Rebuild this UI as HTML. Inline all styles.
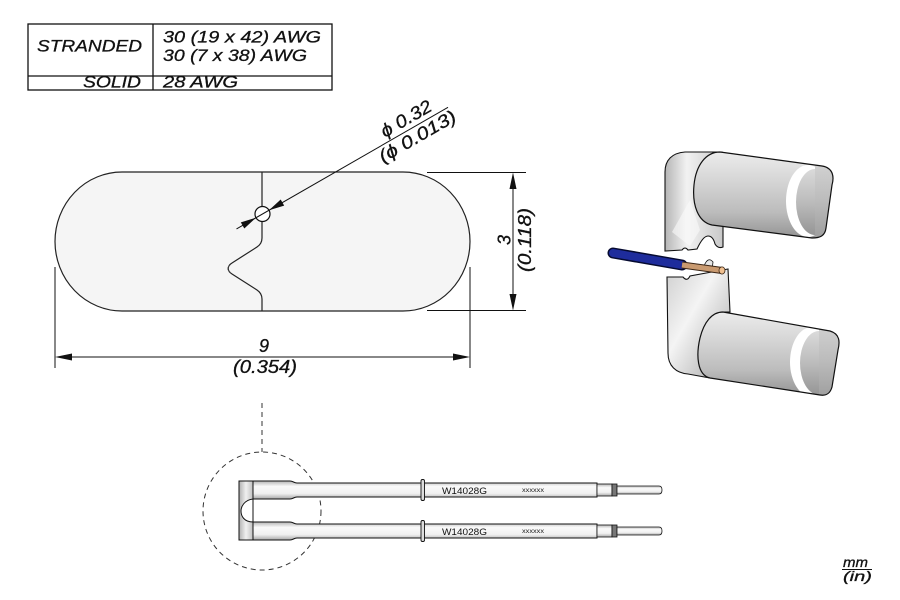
<!DOCTYPE html>
<html><head><meta charset="utf-8"><style>
html,body{margin:0;padding:0;background:#fff;}
svg{display:block;}
text{font-family:"Liberation Sans",Arial,sans-serif;}
.it{font-style:italic;}
.t{stroke:#111;stroke-width:0.3;}
</style></head><body>
<svg width="900" height="600" viewBox="0 0 900 600" xmlns="http://www.w3.org/2000/svg">
<defs>
<linearGradient id="cylU" x1="0" y1="0" x2="0" y2="1">
<stop offset="0" stop-color="#ececec"/><stop offset="0.3" stop-color="#d8d8d8"/><stop offset="0.7" stop-color="#bcbcbc"/><stop offset="1" stop-color="#949494"/>
</linearGradient>
<linearGradient id="cap" x1="0" y1="0" x2="0" y2="1">
<stop offset="0" stop-color="#dadada"/><stop offset="0.5" stop-color="#bcbcbc"/><stop offset="1" stop-color="#959595"/>
</linearGradient>
<linearGradient id="plate" x1="0" y1="0" x2="1" y2="0">
<stop offset="0" stop-color="#b5b5b5"/><stop offset="0.35" stop-color="#f2f2f2"/><stop offset="0.7" stop-color="#d9d9d9"/><stop offset="1" stop-color="#c4c4c4"/>
</linearGradient>
<linearGradient id="plateL" x1="0" y1="0" x2="1" y2="1">
<stop offset="0" stop-color="#d0d0d0"/><stop offset="0.4" stop-color="#f4f4f4"/><stop offset="0.75" stop-color="#c6c6c6"/><stop offset="1" stop-color="#a2a2a2"/>
</linearGradient>
<linearGradient id="tube" x1="0" y1="0" x2="0" y2="1">
<stop offset="0" stop-color="#b5b5b5"/><stop offset="0.3" stop-color="#fafafa"/><stop offset="0.7" stop-color="#f0f0f0"/><stop offset="1" stop-color="#a8a8a8"/>
</linearGradient>
<linearGradient id="endp" x1="0" y1="0" x2="1" y2="0">
<stop offset="0" stop-color="#b0b0b0"/><stop offset="0.5" stop-color="#f0f0f0"/><stop offset="1" stop-color="#c0c0c0"/>
</linearGradient>
<clipPath id="cu"><path d="M720,152 L822,166 C834,168 834,178 832,185 L826,228 C825,236 820,238 812,238 L712,225 C698,222 692,205 694,185 C696,165 706,152 720,152 Z"/></clipPath>
<clipPath id="cl"><path d="M723,312 L830,331 C840,334 840,342 838,350 L832,387 C830,394 826,396 820,395 L710,378 C697,375 696,355 700,338 C704,322 712,312 723,312 Z"/></clipPath>
</defs>

<!-- Table -->
<g stroke="#111" stroke-width="1.3" fill="none">
<rect x="28" y="24" width="304" height="66"/>
<line x1="153" y1="24" x2="153" y2="90"/>
<line x1="28" y1="76" x2="332" y2="76"/>
</g>
<g class="it t" font-size="17" fill="#111">
<text x="37" y="51.5" textLength="105" lengthAdjust="spacingAndGlyphs">STRANDED</text>
<text x="163" y="42.5" textLength="158" lengthAdjust="spacingAndGlyphs">30 (19 x 42) AWG</text>
<text x="163" y="61" textLength="144" lengthAdjust="spacingAndGlyphs">30 (7 x 38) AWG</text>
<text x="83" y="87.5" textLength="58" lengthAdjust="spacingAndGlyphs">SOLID</text>
<text x="163" y="87.5" textLength="75" lengthAdjust="spacingAndGlyphs">28 AWG</text>
</g>

<!-- Pill shape -->
<path d="M122,172 H403 A67,69.5 0 0 1 403,311 H122 A67,69.5 0 0 1 122,172 Z" fill="#f5f5f5" stroke="#222" stroke-width="1.2"/>
<path d="M262,172 V238 C262,242 260,245 257,247 L232,263 C227,266 227,271 232,274 L257,290 C260,292 262,295 262,299 V311" fill="none" stroke="#222" stroke-width="1.2"/>
<path d="M230,265 C227,268 227,270 231,273" fill="none" stroke="#444" stroke-width="0.8"/>
<circle cx="262.5" cy="214" r="7.5" fill="#fff" stroke="#111" stroke-width="1.2"/>

<!-- diameter leader -->
<g transform="translate(262.5,214) rotate(-29.9)">
<line x1="-30" y1="0" x2="214" y2="0" stroke="#111" stroke-width="1"/>
<polygon points="-7.5,0 -23,-3.5 -23,3.5" fill="#111"/>
<polygon points="7.5,0 23,-3.5 23,3.5" fill="#111"/>
<text class="it t" x="144" y="-5" font-size="18" fill="#111" textLength="56" lengthAdjust="spacingAndGlyphs">ϕ 0.32</text>
<text class="it t" x="130" y="16" font-size="18" fill="#111" textLength="86" lengthAdjust="spacingAndGlyphs">(ϕ 0.013)</text>
</g>

<!-- horizontal dimension -->
<g stroke="#111" stroke-width="1">
<line x1="55" y1="267" x2="55" y2="368"/>
<line x1="470" y1="267" x2="470" y2="368"/>
<line x1="60" y1="357" x2="465" y2="357"/>
</g>
<polygon points="55,357 72,353.5 72,360.5" fill="#111"/>
<polygon points="470,357 453,353.5 453,360.5" fill="#111"/>
<text class="it t" x="264" y="352" font-size="18" fill="#111" text-anchor="middle">9</text>
<text class="it t" x="233" y="373" font-size="18" fill="#111" textLength="64" lengthAdjust="spacingAndGlyphs">(0.354)</text>

<!-- vertical dimension -->
<g stroke="#111" stroke-width="1">
<line x1="427" y1="172.5" x2="526" y2="172.5"/>
<line x1="427" y1="310.5" x2="526" y2="310.5"/>
<line x1="513" y1="178" x2="513" y2="305"/>
</g>
<polygon points="513,172.5 509.5,189 516.5,189" fill="#111"/>
<polygon points="513,310.5 509.5,294 516.5,294" fill="#111"/>
<text class="it t" transform="translate(510.5,240) rotate(-90)" font-size="18" fill="#111" text-anchor="middle">3</text>
<text class="it t" transform="translate(531,272) rotate(-90)" font-size="18" fill="#111" textLength="64" lengthAdjust="spacingAndGlyphs">(0.118)</text>

<!-- 3D image: upper piece -->
<path d="M665,251 L665,172 C665,160 672,153 685,152 L722,152 L727,200 L723,226 L723,247 Q718,249 715,244 Q713,236 708,236 Q703,236 697,249 L688,250 Q685,246 682,250 Z" fill="url(#plate)" stroke="#111" stroke-width="1.1"/>
<path d="M672,232 L690,200 L700,230 L690,246 Z" fill="#fafafa" opacity="0.6"/>
<path d="M720,152 L822,166 C834,168 834,178 832,185 L826,228 C825,236 820,238 812,238 L712,225 C698,222 692,205 694,185 C696,165 706,152 720,152 Z" fill="url(#cylU)"/>
<g clip-path="url(#cu)">
<ellipse cx="808" cy="201" rx="22" ry="36" fill="#ffffff"/>
<ellipse cx="815" cy="202" rx="19" ry="33" fill="url(#cap)"/>
<rect x="815" y="150" width="35" height="100" fill="url(#cap)"/>
</g>
<path d="M720,152 L822,166 C834,168 834,178 832,185 L826,228 C825,236 820,238 812,238 L712,225 C698,222 692,205 694,185 C696,165 706,152 720,152 Z" fill="none" stroke="#111" stroke-width="1.2"/>

<!-- lower piece -->
<path d="M667,277 L683,277 Q687,282 690,276 L728,269 L730,312 L723,312 L710,378 L688,374 C676,373 668,366 668,353 Z" fill="url(#plateL)" stroke="#111" stroke-width="1.1"/>
<path d="M704,266 Q708,256 713,262 L712,270 Z" fill="#e6e6e6" stroke="#111" stroke-width="0.8"/>
<path d="M723,312 L830,331 C840,334 840,342 838,350 L832,387 C830,394 826,396 820,395 L710,378 C697,375 696,355 700,338 C704,322 712,312 723,312 Z" fill="url(#cylU)"/>
<g clip-path="url(#cl)">
<ellipse cx="812" cy="362" rx="22" ry="35" fill="#ffffff"/>
<ellipse cx="819" cy="363" rx="19" ry="32" fill="url(#cap)"/>
<rect x="819" y="310" width="35" height="100" fill="url(#cap)"/>
</g>
<path d="M723,312 L830,331 C840,334 840,342 838,350 L832,387 C830,394 826,396 820,395 L710,378 C697,375 696,355 700,338 C704,322 712,312 723,312 Z" fill="none" stroke="#111" stroke-width="1.2"/>

<!-- wire -->
<line x1="613" y1="253" x2="682" y2="265" stroke="#050a30" stroke-width="11" stroke-linecap="round"/>
<line x1="613" y1="253" x2="682" y2="265" stroke="#1e2c9c" stroke-width="8" stroke-linecap="round"/>
<line x1="682" y1="265" x2="722" y2="270.5" stroke="#3a2515" stroke-width="7"/>
<line x1="682" y1="265" x2="722" y2="270.5" stroke="#c99a70" stroke-width="5"/>
<ellipse cx="722" cy="270.5" rx="3" ry="3.6" fill="#f0c090" stroke="#3a2515" stroke-width="0.8"/>

<!-- Bottom tips drawing -->
<line x1="262" y1="403" x2="262" y2="452" stroke="#333" stroke-width="1" stroke-dasharray="5,4"/>
<circle cx="262" cy="511" r="59" fill="none" stroke="#333" stroke-width="1" stroke-dasharray="5,4"/>

<rect x="239" y="481" width="14" height="59" fill="url(#endp)" stroke="#111" stroke-width="1"/>
<path d="M253,499 C244,500 241,507 241,511 C241,516 244,522 253,522 Z" fill="#fff" stroke="#111" stroke-width="1"/>

<g>
<path d="M253,481 H290 C293,481 294,483 297,483 H597 V497 H297 C294,497 293,499 290,499 H253 Z" fill="url(#tube)" stroke="#111" stroke-width="1"/>
<rect x="597" y="484" width="15" height="12" fill="url(#tube)" stroke="#111" stroke-width="0.8"/>
<rect x="612" y="484" width="5" height="12" fill="#777" stroke="#111" stroke-width="0.8"/>
<path d="M617,486 H659 Q662,486 662,490 Q662,494 659,494 H617 Z" fill="url(#tube)" stroke="#111" stroke-width="0.8"/>
<rect x="421" y="479.5" width="3.5" height="21" rx="1.5" fill="#ddd" stroke="#111" stroke-width="0.9"/>
<text x="442" y="494" font-size="9.5" fill="#111" textLength="45" lengthAdjust="spacingAndGlyphs">W14028G</text>
<text x="522" y="492" font-size="6" fill="#222" textLength="22" lengthAdjust="spacingAndGlyphs">xxxxxx</text>
</g>
<g transform="translate(0,41)">
<path d="M253,481 H290 C293,481 294,483 297,483 H597 V497 H297 C294,497 293,499 290,499 H253 Z" fill="url(#tube)" stroke="#111" stroke-width="1"/>
<rect x="597" y="484" width="15" height="12" fill="url(#tube)" stroke="#111" stroke-width="0.8"/>
<rect x="612" y="484" width="5" height="12" fill="#777" stroke="#111" stroke-width="0.8"/>
<path d="M617,486 H659 Q662,486 662,490 Q662,494 659,494 H617 Z" fill="url(#tube)" stroke="#111" stroke-width="0.8"/>
<rect x="421" y="479.5" width="3.5" height="21" rx="1.5" fill="#ddd" stroke="#111" stroke-width="0.9"/>
<text x="442" y="494" font-size="9.5" fill="#111" textLength="45" lengthAdjust="spacingAndGlyphs">W14028G</text>
<text x="522" y="492" font-size="6" fill="#222" textLength="22" lengthAdjust="spacingAndGlyphs">xxxxxx</text>
</g>

<!-- units -->
<text class="it t" x="843" y="567" font-size="14" fill="#111" textLength="25" lengthAdjust="spacingAndGlyphs">mm</text>
<line x1="842" y1="569.5" x2="872" y2="569.5" stroke="#111" stroke-width="1"/>
<text class="it t" x="843" y="581" font-size="14" fill="#111" textLength="29" lengthAdjust="spacingAndGlyphs">(in)</text>
</svg>
</body></html>
